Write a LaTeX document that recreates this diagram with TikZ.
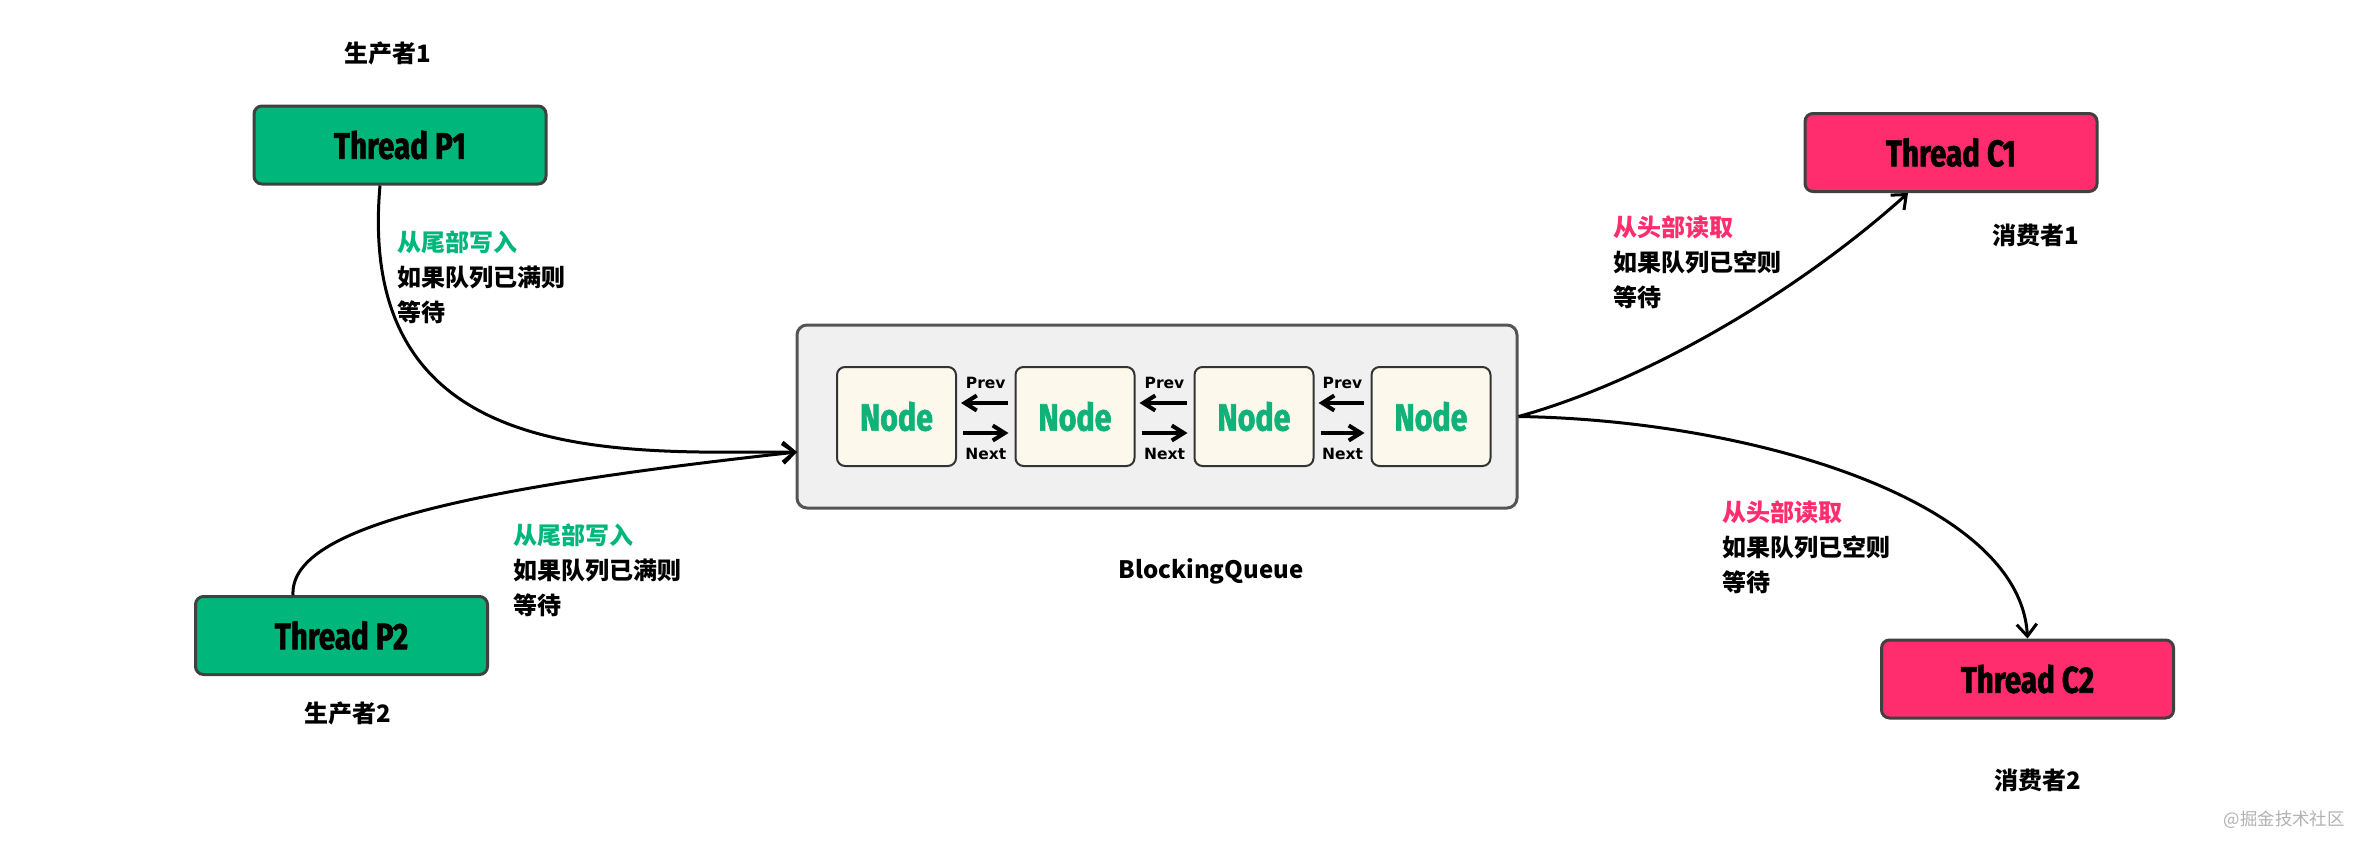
\documentclass[tikz,border=0pt]{standalone}
\usepackage{fontspec}
\usetikzlibrary{arrows.meta}
\newfontfamily\cjk{Noto Sans CJK SC}
\newfontfamily\handfont{Fira Sans}[FakeStretch=0.8, BoldFeatures={FakeBold=1.6}]
\newfontfamily\smallsans{DejaVu Sans}
\definecolor{tgreen}{RGB}{0,182,122}
\definecolor{tpink}{RGB}{255,44,110}
\definecolor{ngreen}{RGB}{16,178,122}
\definecolor{cream}{RGB}{252,248,235}
\definecolor{qfill}{RGB}{240,240,240}
\begin{document}
\begin{tikzpicture}[x=0.5pt,y=-0.5pt,
  thread/.style={draw=black!75, line width=1.5pt, rounded corners=4pt, minimum width=146pt, minimum height=39pt, inner sep=0pt, font=\handfont\bfseries\fontsize{18.5}{20}\selectfont},
  pbox/.style={thread, fill=tgreen},
  cbox/.style={thread, fill=tpink},
  queue/.style={draw=black!67, fill=qfill, line width=1.5pt, rounded corners=5pt, minimum width=360pt, minimum height=91.5pt, inner sep=0pt},
  item/.style={draw=black!80, fill=cream, line width=1pt, rounded corners=4pt, minimum width=59.5pt, minimum height=49.5pt, inner sep=0pt, text=ngreen, font=\handfont\bfseries\fontsize{19}{20}\selectfont},
  lbl/.style={font=\cjk\bfseries\fontsize{12}{17.5}\selectfont, inner sep=0pt},
  note/.style={lbl, align=left, anchor=north west},
  flow/.style={-{Straight Barb[length=6pt,width=10pt]}, line width=1.5pt},
  link/.style={-{Straight Barb[length=6pt,width=7.5pt]}, line width=2pt},
  tag/.style={font=\smallsans\bfseries\fontsize{7.75}{8}\selectfont, inner sep=0pt}]
\useasboundingbox (0,0) rectangle (2370,852);
\fill[white] (0,0) rectangle (2370,852);

% thread boxes
\node[pbox] (P1) at (400,145) {Thread P1};
\node[pbox] (P2) at (341.5,635.5) {Thread P2};
\node[cbox] (C1) at (1951,152.5) {Thread C1};
\node[cbox] (C2) at (2027.5,679) {Thread C2};

% queue
\node[queue] (Q) at (1157,416.5) {};
\node[item] (N1) at (896.5,416.5) {Node};
\node[item] (N2) at (1075,416.5) {Node};
\node[item] (N3) at (1254,416.5) {Node};
\node[item] (N4) at (1431,416.5) {Node};

\foreach \a/\b in {N1/N2,N2/N3,N3/N4}{
  \draw[link, shorten <=3.5pt, shorten >=2pt] ([yshift=6.75pt]\b.west) -- node[tag, above=6pt] (prev\a) {Prev} ([yshift=6.75pt]\a.east);
  \draw[link, shorten <=3pt, shorten >=3pt] ([yshift=-8.25pt]\a.east) -- node[tag, below=6.75pt] (next\a) {Next} ([yshift=-8.25pt]\b.west);
}

% labels
\node[lbl] (lp1) at (388,53) {生产者1};
\node[lbl] (lp2) at (348,713) {生产者2};
\node[lbl] (lc1) at (2036,235) {消费者1};
\node[lbl] (lc2) at (2038,780) {消费者2};
\node[lbl] (lq) at (1211,571) {BlockingQueue};

% notes
\node[note] (n1) at (397,230) {\textcolor{tgreen}{从尾部写入}\\如果队列已满则\\等待};
\node[note] (n2) at (513,523) {\textcolor{tgreen}{从尾部写入}\\如果队列已满则\\等待};
\node[note] (n3) at (1613,215) {\textcolor{tpink}{从头部读取}\\如果队列已空则\\等待};
\node[note] (n4) at (1722,500) {\textcolor{tpink}{从头部读取}\\如果队列已空则\\等待};

% connectors
\coordinate (qin) at (797,452);
\draw[flow] ([xshift=-10pt]P1.south) .. controls (355,470) and (620,452) .. (qin);
\draw[flow] ([xshift=-24.25pt]P2.north) .. controls (290,530) and (450,490) .. (qin);
\draw[flow] (Q.east) .. controls (1650,380) and (1800,290) .. ([xshift=-21.5pt]C1.south);
\draw[flow] (Q.east) .. controls (1750,420) and (2020,500) .. (C2.north);

% watermark
\node[font=\cjk\fontsize{8.7}{10}\selectfont, text=black!30, anchor=east, inner sep=0pt] (wm) at (2345,820) {@掘金技术社区};
\end{tikzpicture}
\end{document}
